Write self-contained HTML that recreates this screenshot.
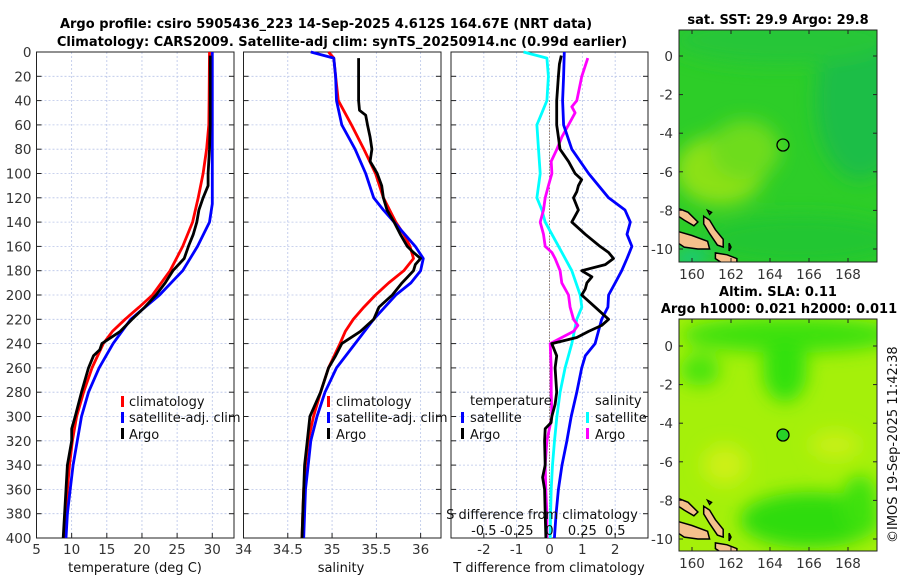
<!DOCTYPE html>
<html><head><meta charset="utf-8"><title>Argo profile</title>
<style>
html,body{margin:0;padding:0;background:#fff;}
svg{display:block;font-family:"DejaVu Sans","Liberation Sans",sans-serif;}
.tk{font-size:13.5px;fill:#333;}
.tt{font-size:13px;font-weight:bold;fill:#000;}
.lg{font-size:13px;fill:#111;}
</style></head>
<body>
<svg id="fig" width="900" height="580" viewBox="0 0 900 580">
  <defs>
    <filter id="blur3" x="-50%" y="-50%" width="200%" height="200%"><feGaussianBlur stdDeviation="9"/></filter>
    <clipPath id="clipU"><rect x="679" y="30" width="198" height="232"/></clipPath>
    <clipPath id="clipL"><rect x="679" y="319" width="198" height="232"/></clipPath>
  </defs>
  <text class="tt" x="326" y="28" text-anchor="middle">Argo profile: csiro 5905436_223 14-Sep-2025 4.612S 164.67E (NRT data)</text>
  <text class="tt" x="342" y="46" text-anchor="middle">Climatology: CARS2009. Satellite-adj clim: synTS_20250914.nc (0.99d earlier)</text>

  <g id="p1"></g>
  <g id="p2"></g>
  <g id="p3"></g>

  <g>
    <rect x="121" y="396" width="3" height="11" fill="#f00"/>
    <text class="lg" x="129" y="406">climatology</text>
    <rect x="121" y="412" width="3" height="11" fill="#00f"/>
    <text class="lg" x="129" y="422">satellite-adj. clim</text>
    <rect x="121" y="428" width="3" height="11" fill="#000"/>
    <text class="lg" x="129" y="439">Argo</text>
  </g>
  <g>
    <rect x="327" y="396" width="3" height="11" fill="#f00"/>
    <text class="lg" x="336" y="406">climatology</text>
    <rect x="327" y="412" width="3" height="11" fill="#00f"/>
    <text class="lg" x="336" y="422">satellite-adj. clim</text>
    <rect x="327" y="428" width="3" height="11" fill="#000"/>
    <text class="lg" x="336" y="439">Argo</text>
  </g>
  <g>
    <text class="lg" x="470" y="405">temperature</text>
    <rect x="461" y="412" width="3" height="11" fill="#00f"/>
    <text class="lg" x="470" y="422">satellite</text>
    <rect x="461" y="428" width="3" height="11" fill="#000"/>
    <text class="lg" x="470" y="439">Argo</text>
    <text class="lg" x="595" y="405">salinity</text>
    <rect x="586" y="412" width="3" height="11" fill="#0ff"/>
    <text class="lg" x="595" y="422">satellite</text>
    <rect x="586" y="428" width="3" height="11" fill="#f0f"/>
    <text class="lg" x="595" y="439">Argo</text>
  </g>
  <text class="lg" x="542" y="519" text-anchor="middle">S difference from climatology</text>
  <g id="sAxis"></g>

  <text class="lg" x="135" y="572" text-anchor="middle">temperature (deg C)</text>
  <text class="lg" x="341" y="572" text-anchor="middle">salinity</text>
  <text class="lg" x="549" y="572" text-anchor="middle">T difference from climatology</text>

  <text class="tt" x="778" y="24" text-anchor="middle">sat. SST: 29.9 Argo: 29.8</text>
  <g clip-path="url(#clipU)">
    <rect x="679" y="30" width="198" height="232" fill="rgb(45,205,40)"/>
    <g filter="url(#blur3)">
      <ellipse cx="860" cy="100" rx="45" ry="80" fill="rgb(30,190,70)"/>
      <ellipse cx="780" cy="40" rx="110" ry="25" fill="rgb(40,198,55)"/>
      <ellipse cx="720" cy="170" rx="45" ry="35" fill="rgb(140,225,25)"/>
      <ellipse cx="745" cy="150" rx="35" ry="30" fill="rgb(110,220,30)"/>
      <ellipse cx="800" cy="240" rx="100" ry="25" fill="rgb(35,198,50)"/>
      <ellipse cx="690" cy="258" rx="18" ry="8" fill="rgb(20,200,150)"/>
    </g>
    <g id="islandsU"></g>
  </g>
  <rect x="679" y="30" width="198" height="232" fill="none" stroke="#222" stroke-width="1"/>
  <circle cx="783" cy="145" r="6" fill="none" stroke="#000" stroke-width="1.3"/>
  <g id="mapAxU"></g>

  <text class="tt" x="778" y="296" text-anchor="middle">Altim. SLA: 0.11</text>
  <text class="tt" x="779" y="313" text-anchor="middle">Argo h1000: 0.021 h2000: 0.011</text>
  <g clip-path="url(#clipL)">
    <rect x="679" y="319" width="198" height="232" fill="rgb(165,240,10)"/>
    <g filter="url(#blur3)">
      <ellipse cx="790" cy="335" rx="110" ry="18" fill="rgb(60,225,10)"/>
      <ellipse cx="785" cy="370" rx="22" ry="32" fill="rgb(50,225,10)"/>
      <ellipse cx="700" cy="370" rx="20" ry="16" fill="rgb(70,228,10)"/>
      <ellipse cx="810" cy="520" rx="70" ry="28" fill="rgb(45,220,15)"/>
      <ellipse cx="860" cy="505" rx="18" ry="30" fill="rgb(60,225,15)"/>
      <ellipse cx="725" cy="465" rx="22" ry="20" fill="rgb(205,240,20)"/>
      <ellipse cx="835" cy="445" rx="25" ry="14" fill="rgb(200,240,20)"/>
    </g>
    <g id="islandsL"></g>
  </g>
  <rect x="679" y="319" width="198" height="232" fill="none" stroke="#222" stroke-width="1"/>
  <circle cx="783" cy="435" r="6" fill="rgb(40,210,40)" stroke="#000" stroke-width="1.3"/>
  <g id="mapAxL"></g>

  <text class="lg" x="0" y="0" transform="translate(897,543) rotate(-90)">©IMOS 19-Sep-2025 11:42:38</text>
</svg>
<script>
const tClimDepth = [0,40,60,80,100,120,140,160,180,200,210,220,230,240,260,280,300,320,340,360,380,400];
const tClimVal   = [29.6,29.55,29.5,29.2,28.7,28.0,27.2,25.8,24.0,21.5,19.6,17.6,15.8,14.5,12.9,11.7,10.7,10.1,9.7,9.4,9.2,9.0];
const tSatDepth  = [0,60,120,125,140,160,180,200,220,240,260,280,300,320,340,360,380,400];
const tSatVal    = [30.0,30.0,30.0,30.0,29.6,27.9,25.8,22.5,18.4,15.9,13.9,12.4,11.4,10.8,10.2,9.8,9.4,9.2];
const tArgoDepth = [3,60,80,100,110,120,130,140,150,160,170,180,190,200,210,220,230,240,245,250,260,280,300,310,320,340,360,380,400];
const tArgoVal   = [29.7,29.7,29.6,29.4,29.4,28.7,28.1,27.8,27.3,26.6,26.0,24.4,23.3,22.0,20.4,18.6,16.9,14.3,14.0,13.1,12.4,11.4,10.5,10.0,10.0,9.4,9.2,9.0,8.8];

const sClimDepth = [0,5,20,40,60,80,100,120,140,150,160,170,180,190,200,210,220,230,240,260,280,300,320,340,360,380,400];
const sClimVal   = [34.96,35.02,35.04,35.07,35.22,35.36,35.49,35.58,35.72,35.81,35.88,35.92,35.81,35.64,35.49,35.36,35.24,35.15,35.09,34.96,34.87,34.79,34.73,34.70,34.68,34.67,34.66];
const sSatDepth  = [0,5,20,40,60,80,100,120,130,140,160,170,180,190,200,220,240,260,280,300,320,340,360,380,400];
const sSatVal    = [34.76,35.02,35.04,35.05,35.11,35.26,35.38,35.47,35.58,35.70,35.94,36.03,36.00,35.89,35.72,35.47,35.26,35.05,34.92,34.83,34.76,34.73,34.70,34.69,34.68];
const sArgoDepth = [5,40,48,52,60,70,80,90,95,100,110,120,130,140,150,160,165,170,175,180,190,200,210,220,230,240,250,260,280,300,320,340,360,380,400];
const sArgoVal   = [35.30,35.30,35.31,35.38,35.40,35.43,35.45,35.43,35.47,35.51,35.56,35.58,35.62,35.70,35.77,35.85,35.92,36.00,35.94,35.92,35.79,35.68,35.53,35.47,35.32,35.11,35.04,34.96,34.87,34.75,34.72,34.69,34.68,34.67,34.66];

const dTSatDepth = [0,20,40,60,80,100,120,130,140,150,160,170,180,190,200,210,220,230,240,250,260,280,300,320,340,360,380,400];
const dTSatVal   = [0.45,0.43,0.40,0.43,0.68,1.19,1.80,2.30,2.46,2.36,2.51,2.36,2.20,2.00,1.80,1.78,1.59,1.49,1.39,1.09,0.98,0.83,0.66,0.53,0.38,0.27,0.20,0.15];
const dTArgoDepth= [3,10,20,40,60,70,80,90,100,105,110,115,120,130,140,150,160,165,170,175,180,185,190,195,200,210,220,225,230,235,240,250,260,280,290,300,305,310,320,340,350,360,380,400];
const dTArgoVal  = [0.36,0.30,0.27,0.22,0.22,0.27,0.32,0.58,0.78,0.98,0.88,0.83,0.73,0.88,0.68,1.09,1.54,1.80,1.95,1.70,0.98,1.29,1.14,1.09,0.98,1.39,1.80,1.59,1.19,0.83,0.07,0.22,0.17,0.22,0.17,0.07,0.05,-0.13,-0.15,-0.13,-0.21,-0.15,-0.13,-0.11];
const dSSatDepth = [0,5,20,40,50,60,80,100,120,130,140,160,180,200,210,220,240,260,280,300,320,340,360,380,400];
const dSSatVal   = [-0.198,-0.020,-0.008,-0.020,-0.058,-0.096,-0.084,-0.071,-0.096,-0.058,-0.033,0.069,0.170,0.234,0.246,0.208,0.170,0.119,0.081,0.056,0.038,0.023,0.013,0.008,0.005];
const dSArgoDepth= [5,20,40,45,50,60,70,80,90,100,110,120,130,140,150,160,165,170,180,190,200,210,220,225,230,235,240,260,280,300,320,340,360,380,400];
const dSArgoVal  = [0.292,0.246,0.208,0.170,0.195,0.145,0.094,0.056,0.013,0.018,-0.008,-0.033,-0.046,-0.071,-0.046,-0.033,0.018,0.043,0.081,0.094,0.145,0.157,0.183,0.216,0.183,0.094,0.005,0.013,0.013,0.018,-0.020,-0.033,-0.028,-0.020,-0.020];

const depthTicks = [0,20,40,60,80,100,120,140,160,180,200,220,240,260,280,300,320,340,360,380,400];
const tTicks = [5,10,15,20,25,30];
const sTicks = [34,34.5,35,35.5,36];
const dTTicks = [-2,-1,0,1,2];
const dSTicks = [-0.5,-0.25,0,0.25,0.5];
const dSTickLabels = ['-0.5','-0.25','0','0.25','0.5'];
const latTicks = [0,-2,-4,-6,-8,-10];
const lonTicks = [160,162,164,166,168];

const NS = 'http://www.w3.org/2000/svg';
const Y0 = 52, Y1 = 538;
const yScale = d => Y0 + d / 400 * (Y1 - Y0);
function mk(tag, attrs, parent){ const e=document.createElementNS(NS,tag); for(const k in attrs) e.setAttribute(k,attrs[k]); parent.appendChild(e); return e; }

function panel(gid, x0, x1, dmin, dmax, ticks, labels, showY){
  const g = document.getElementById(gid);
  const xs = v => x0 + (v - dmin) / (dmax - dmin) * (x1 - x0);
  depthTicks.forEach(d=>{
    const y=yScale(d);
    if(d>0 && d<400){
      const gl = mk('line',{x1:x0,x2:x1,y1:y,y2:y,stroke:'#b8c4e8','stroke-width':0.8,'stroke-dasharray':'2,2'},g);
      
      
    }
    mk('line',{x1:x0,x2:x0+5,y1:y,y2:y,stroke:'#222','stroke-width':1},g);
    mk('line',{x1:x1-5,x2:x1,y1:y,y2:y,stroke:'#222','stroke-width':1},g);
    if(showY){
      const t = mk('text',{x:x0-5,y:y+5,'text-anchor':'end',class:'tk'},g);
      t.textContent = d;
      
      
    }
  });
  ticks.forEach((v,i)=>{
    const x=xs(v);
    const gl = mk('line',{x1:x,x2:x,y1:Y0,y2:Y1,stroke:'#b8c4e8','stroke-width':0.8,'stroke-dasharray':'2,2'},g);
    
    
    mk('line',{x1:x,x2:x,y1:Y1,y2:Y1-5,stroke:'#222','stroke-width':1},g);
    const t = mk('text',{x:x,y:554,'text-anchor':'middle',class:'tk'},g);
    t.textContent = labels[i];
    
    
  });
  const fr = mk('rect',{x:x0,y:Y0,width:x1-x0,height:Y1-Y0,fill:'none',stroke:'#222','stroke-width':1},g);
  
  
  return {g, xs};
}
function line(p, depths, vals, color, name, w){
  const pts = depths.map((d,i)=>p.xs(vals[i]).toFixed(1)+','+yScale(d).toFixed(1)).join(' ');
  const pl = mk('polyline',{points:pts,fill:'none',stroke:color,'stroke-width':w||2.8,'stroke-linejoin':'round'},p.g);
  
  
}

const P1 = panel('p1', 36.5, 234, 5, 33.09, tTicks, tTicks.map(String), true);
line(P1, tClimDepth, tClimVal, '#f00', 'temperature-climatology-line');
line(P1, tSatDepth, tSatVal, '#00f', 'temperature-satellite-line');
line(P1, tArgoDepth, tArgoVal, '#000', 'temperature-argo-line');

const P2 = panel('p2', 243.5, 441, 34, 36.23, sTicks, sTicks.map(String), false);
line(P2, sClimDepth, sClimVal, '#f00', 'salinity-climatology-line');
line(P2, sSatDepth, sSatVal, '#00f', 'salinity-satellite-line');
line(P2, sArgoDepth, sArgoVal, '#000', 'salinity-argo-line');

const P3 = panel('p3', 451, 648, -3, 3, dTTicks, dTTicks.map(String), false);
const z = P3.xs(0);
const zl = mk('line',{x1:z,x2:z,y1:yScale(40),y2:Y1,stroke:'#664422','stroke-width':1,'stroke-dasharray':'1,2'},P3.g);


const P3s = {g:P3.g, xs: v => 451 + (v + 0.75) / 1.5 * (648 - 451)};
line(P3s, dSSatDepth, dSSatVal, '#0ff', 'salinity-difference-satellite-line');
line(P3s, dSArgoDepth, dSArgoVal, '#f0f', 'salinity-difference-argo-line');
line(P3, dTSatDepth, dTSatVal, '#00f', 'temperature-difference-satellite-line');
line(P3, dTArgoDepth, dTArgoVal, '#000', 'temperature-difference-argo-line');

const sAx = document.getElementById('sAxis');
dSTicks.forEach((v,i)=>{
  const t = mk('text',{x:P3s.xs(v),y:535,'text-anchor':'middle',class:'lg'},sAx);
  t.textContent = dSTickLabels[i];
  
  
});

const lonX = lon => 692 + (lon - 160) * 19.5;
function mapAxes(gid, top, bottom, lat0y){
  const g = document.getElementById(gid);
  const latY = lat => lat0y - lat * 19.3;
  latTicks.forEach(l=>{
    const y = latY(l);
    mk('line',{x1:679,x2:683,y1:y,y2:y,stroke:'#222'},g);
    mk('line',{x1:873,x2:877,y1:y,y2:y,stroke:'#222'},g);
    const t = mk('text',{x:673,y:y+5,'text-anchor':'end',class:'tk'},g);
    t.textContent = l;
    
    
  });
  lonTicks.forEach(l=>{
    const x = lonX(l);
    mk('line',{x1:x,x2:x,y1:bottom,y2:bottom-4,stroke:'#222'},g);
    mk('line',{x1:x,x2:x,y1:top,y2:top+4,stroke:'#222'},g);
    const t = mk('text',{x:x,y:bottom+17,'text-anchor':'middle',class:'tk'},g);
    t.textContent = l;
    
    
  });
}
mapAxes('mapAxU', 30, 262, 56);
mapAxes('mapAxL', 319, 551, 346);

const islands = [
  [[159.3,-7.9],[159.8,-8.1],[160.3,-8.6],[160.1,-8.8],[159.6,-8.5],[159.3,-8.3]],
  [[160.6,-8.3],[160.9,-8.5],[161.2,-9.0],[161.6,-9.5],[161.6,-9.9],[161.3,-9.8],[160.9,-9.2],[160.6,-8.7]],
  [[159.3,-9.1],[160.0,-9.3],[160.8,-9.6],[160.9,-10.0],[160.3,-10.0],[159.6,-9.9],[159.3,-9.7]],
  [[161.2,-10.2],[161.8,-10.3],[162.3,-10.5],[162.3,-10.7],[161.5,-10.7],[161.2,-10.5]],
  [[160.8,-8.0],[161.0,-8.1],[160.9,-8.2]],
  [[161.9,-9.7],[162.0,-9.9],[161.9,-10.1]]
];
function drawIslands(gid, lat0y){
  const g = document.getElementById(gid);
  islands.forEach(poly=>{
    const pts = poly.map(p=>lonX(p[0]).toFixed(1)+','+(lat0y - p[1]*19.3).toFixed(1)).join(' ');
    const e = mk('polygon',{points:pts,fill:'#f5c08c',stroke:'#000','stroke-width':1.5},g);
    
    
  });
}
drawIslands('islandsU', 56);
drawIslands('islandsL', 346);
</script>
</body></html>
